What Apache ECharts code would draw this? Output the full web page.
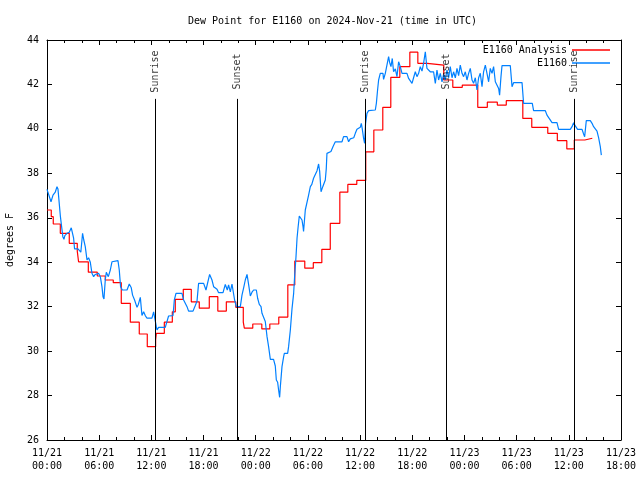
<!DOCTYPE html>
<html>
<head>
<meta charset="utf-8">
<script src="https://cdn.jsdelivr.net/npm/echarts@6/dist/echarts.min.js"></script>
<style>html,body{margin:0;padding:0;background:#fff;}#chart{width:640px;height:480px;}</style>
</head>
<body>
<div id="chart"></div>
<script>
// Time is hours since 2024-11-21 00:00 UTC
const tickLabels = ['11/21\n00:00','11/21\n06:00','11/21\n12:00','11/21\n18:00',
  '11/22\n00:00','11/22\n06:00','11/22\n12:00','11/22\n18:00',
  '11/23\n00:00','11/23\n06:00','11/23\n12:00','11/23\n18:00'];

const eventNames = ['Sunrise','Sunset','Sunrise','Sunset','Sunrise'];
const eventHours = [12.49, 21.92, 36.63, 45.95, 60.66];
const eventLineTop = 41.35;
const eventLabelY = 42.58;

const analysisHours = [0.00,0.49,0.72,1.53,2.56,3.48,3.63,4.75,5.78,6.70,7.62,8.54,9.58,10.61,11.53,12.49,12.57,13.49,14.41,14.75,15.67,16.59,17.51,18.66,19.64,20.62,21.71,22.57,22.69,23.66,24.70,25.62,26.65,27.69,28.49,29.64,30.62,31.60,32.57,33.67,34.59,35.62,36.65,37.58,38.61,39.53,40.57,41.72,42.64,43.73,45.62,46.66,47.75,49.53,50.63,51.78,52.81,54.71,55.74,57.58,58.68,59.77,60.63,61.84,62.70];
const analysisValues = [36.35,36.05,35.72,35.30,34.85,34.50,34.02,33.55,33.38,33.20,33.08,32.15,31.30,30.77,30.20,30.50,30.80,31.30,31.77,32.33,32.78,32.22,31.93,32.45,31.80,32.22,31.97,31.30,31.03,31.22,31.00,31.22,31.53,32.98,34.05,33.73,33.98,34.58,35.75,37.15,37.50,37.68,38.97,39.95,40.97,42.32,42.80,43.45,42.95,42.87,42.20,41.87,41.97,40.97,41.20,41.07,41.27,40.47,40.07,39.80,39.47,39.10,39.50,39.58,39.58];

const stationHours = [0.00,0.18,0.46,0.69,0.95,1.15,1.26,1.53,1.68,1.82,1.95,2.05,2.30,2.56,2.79,2.93,3.06,3.17,3.56,3.89,4.09,4.23,4.40,4.60,4.78,4.98,5.17,5.36,5.55,5.75,5.93,6.13,6.32,6.44,6.55,6.70,6.82,7.05,7.28,7.47,7.66,8.16,8.31,8.46,8.66,9.20,9.46,9.69,9.84,10.07,10.35,10.50,10.73,10.92,11.11,11.30,11.50,12.07,12.26,12.45,12.57,12.65,12.83,13.60,13.98,14.49,14.64,14.83,15.52,15.71,16.10,16.28,16.79,17.05,17.25,17.43,18.01,18.28,18.47,18.70,18.97,19.16,19.55,19.73,20.24,20.50,20.73,20.88,21.08,21.27,21.46,21.57,21.77,22.23,22.42,22.61,22.80,23.00,23.18,23.38,23.57,23.76,24.07,24.22,24.41,24.61,24.72,25.10,25.30,25.48,25.68,26.05,26.25,26.37,26.52,26.63,26.75,26.83,27.02,27.21,27.29,27.67,27.78,27.98,28.17,28.36,28.47,28.63,28.75,28.86,29.01,29.13,29.32,29.44,29.50,29.70,29.90,30.08,30.28,30.45,30.65,30.85,31.05,31.23,31.35,31.51,31.71,32.00,32.11,32.19,32.38,32.65,32.88,33.15,33.92,34.10,34.49,34.68,34.87,35.06,35.27,35.45,35.64,36.02,36.14,36.25,36.40,36.52,36.63,36.79,36.98,37.75,37.87,38.01,38.13,38.32,38.63,38.70,38.90,39.16,39.28,39.39,39.55,39.70,39.85,40.05,40.24,40.43,40.62,40.82,41.39,41.58,41.77,41.97,42.15,42.35,42.54,42.73,42.92,43.12,43.30,43.50,43.69,43.88,44.07,44.26,44.45,44.65,44.84,45.03,45.22,45.42,45.60,45.80,45.99,46.18,46.37,46.57,46.75,46.95,47.14,47.33,47.52,47.72,47.90,48.10,48.29,48.48,48.67,48.87,49.05,49.25,49.44,49.63,49.82,50.02,50.20,50.40,50.59,50.78,50.97,51.17,51.35,51.55,51.74,51.93,52.04,52.20,52.32,53.27,53.47,53.65,54.62,54.80,55.80,55.95,57.30,57.49,57.68,58.07,58.64,58.83,60.17,60.37,60.55,60.80,61.01,61.52,61.70,61.82,62.01,62.47,62.67,62.85,63.05,63.24,63.43,63.62,63.74];
const stationValues = [37.28,37.28,36.72,37.02,37.15,37.40,37.30,36.10,35.60,35.15,35.03,35.20,35.30,35.35,35.55,35.55,35.08,34.60,34.60,34.45,35.30,35.00,34.70,34.10,34.20,34.00,33.50,33.35,33.45,33.40,33.50,33.35,32.90,32.45,32.35,33.20,33.55,33.35,33.65,34.02,34.07,34.07,33.65,32.90,32.75,32.75,33.02,32.85,32.52,32.30,31.97,32.10,32.42,31.60,31.77,31.60,31.48,31.48,31.77,31.77,31.10,30.95,31.07,31.07,31.58,31.60,32.30,32.60,32.60,32.30,32.00,31.80,31.80,32.05,32.25,33.05,33.05,32.75,32.70,33.45,33.20,32.90,32.78,32.63,32.63,33.00,32.75,32.98,32.67,33.02,33.02,32.30,32.00,32.00,32.52,32.85,33.20,33.45,33.00,32.48,32.65,32.75,32.75,32.38,32.10,32.00,31.70,31.33,30.65,30.20,29.63,29.63,29.33,28.70,28.60,28.25,27.92,28.40,29.30,29.75,29.90,29.90,30.20,30.95,31.90,32.60,33.35,34.25,35.08,35.53,36.08,36.05,35.90,35.60,35.38,36.35,36.40,37.02,37.40,37.50,37.78,37.85,38.12,38.42,38.10,37.17,37.40,37.70,38.20,38.90,38.98,38.98,39.20,39.42,39.42,39.65,39.65,39.42,39.55,39.60,39.60,39.80,39.98,40.07,40.25,40.00,39.58,39.35,40.25,40.70,40.82,40.85,41.15,41.75,42.20,42.50,42.50,42.23,42.50,43.02,43.25,43.00,42.80,43.17,42.57,42.70,42.35,43.02,42.80,42.50,42.50,42.27,42.20,42.05,42.30,42.57,42.35,42.50,42.80,42.60,42.95,43.47,42.72,42.80,42.57,42.62,42.57,42.05,42.65,42.20,42.50,42.12,42.45,42.20,42.65,42.30,42.80,42.30,42.57,42.30,42.72,42.40,42.87,42.50,42.35,42.57,42.20,42.50,42.72,42.20,42.05,42.30,41.75,42.30,42.50,41.90,42.57,42.87,42.50,42.12,42.72,42.50,42.80,42.12,42.20,41.82,41.52,42.35,42.85,42.85,41.90,42.08,42.08,41.15,41.15,40.82,40.82,40.62,40.55,40.28,40.28,39.98,39.98,40.10,40.28,40.10,39.98,39.98,39.77,39.65,40.37,40.37,40.25,40.10,40.02,39.90,39.60,39.20,38.82];

const FONT = 'DejaVu Sans Mono';
const zip = (a, b) => a.map((v, i) => [v, b[i]]);

const chart = echarts.init(document.getElementById('chart'), null, {renderer: 'canvas'});

function xAx(pos, labels) {
  return {
    type: 'value', min: 0, max: 66, interval: 6, position: pos,
    axisLine: {show: true, onZero: false, lineStyle: {color: '#000', width: 1}},
    axisTick: {show: true, inside: true, length: 5, lineStyle: {color: '#000'}},
    minorTick: {show: true, splitNumber: 3, length: 3, lineStyle: {color: '#000'}},
    splitLine: {show: false},
    axisLabel: {show: labels, formatter: v => tickLabels[Math.round(v / 6)] || '',
      fontFamily: FONT, fontSize: 10, color: '#000', lineHeight: 13, margin: 7}
  };
}
function yAx(pos, labels) {
  return {
    type: 'value', min: 26, max: 44, interval: 2, position: pos,
    name: labels ? 'degrees F' : '', nameLocation: 'middle', nameGap: 32,
    nameTextStyle: {fontFamily: FONT, fontSize: 10, color: '#000'},
    axisLine: {show: true, onZero: false, lineStyle: {color: '#000', width: 1}},
    axisTick: {show: true, inside: true, length: 5, lineStyle: {color: '#000'}},
    splitLine: {show: false},
    axisLabel: {show: labels, fontFamily: FONT, fontSize: 10, color: '#000', margin: 8}
  };
}

chart.setOption({
  animation: false,
  backgroundColor: '#fff',
  title: {text: 'Dew Point for E1160 on 2024-Nov-21 (time in UTC)', left: 188, top: 16, padding: 0,
    textStyle: {fontFamily: FONT, fontSize: 10, fontWeight: 'normal', color: '#000'}},
  grid: {left: 47, right: 19, top: 40, bottom: 40, containLabel: false, outerBoundsMode: 'none'},
  legend: {orient: 'vertical', right: 30, top: 45, padding: 0,
    align: 'right', itemWidth: 38, itemHeight: 1.5, itemGap: 3, icon: 'rect',
    data: [{name: 'E1160 Analysis'}, {name: 'E1160'}],
    textStyle: {fontFamily: FONT, fontSize: 10, color: '#000'}},
  xAxis: [xAx('bottom', true), xAx('top', false)],
  yAxis: [yAx('left', true), yAx('right', false)],
  series: [
    {name: 'E1160 Analysis', type: 'line', step: 'end', data: zip(analysisHours, analysisValues),
      symbol: 'none', color: '#ff0000', lineStyle: {width: 1.2, color: '#ff0000'}, z: 2},
    {name: 'E1160', type: 'line', data: zip(stationHours, stationValues),
      symbol: 'none', color: '#0080ff', lineStyle: {width: 1.2, color: '#0080ff'}, z: 3},
    {name: 'events', type: 'scatter', symbolSize: 0, z: 5,
      data: eventHours.map(h => [h, eventLabelY]),
      label: {show: true, rotate: 90, position: 'inside', formatter: p => eventNames[p.dataIndex],
        fontFamily: FONT, fontSize: 10, color: '#000'},
      markLine: {silent: true, symbol: ['none', 'none'], animation: false,
        label: {show: false}, lineStyle: {color: '#000', width: 1, type: 'solid'},
        data: eventHours.map(h => [{coord: [h, 26]}, {coord: [h, eventLineTop]}])}
    }
  ]
});
</script>
</body>
</html>
